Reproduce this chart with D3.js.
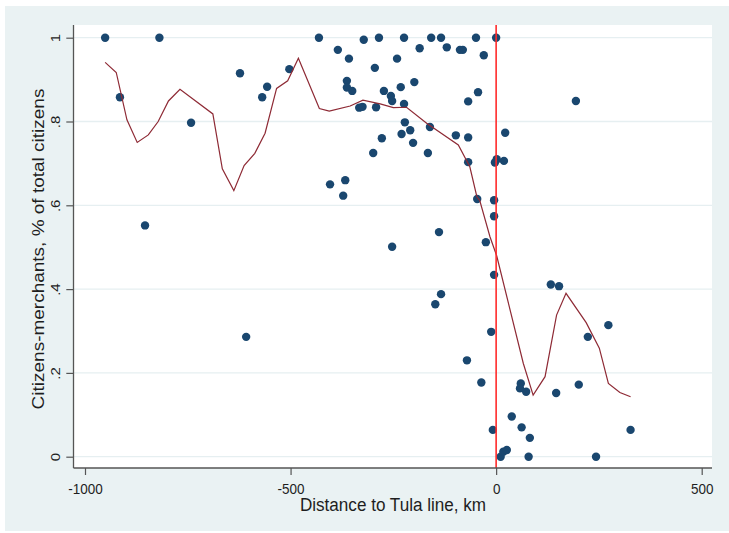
<!DOCTYPE html>
<html><head><meta charset="utf-8">
<script src="https://cdn.jsdelivr.net/npm/d3@7"></script>
<style>body{margin:0;background:#fff}svg{display:block}text{font-family:"Liberation Sans",Arial,sans-serif;fill:#1e1e1e}</style>
</head><body><svg id="c" width="729" height="533"></svg>
<script>
// Scatter data: distance to Tula line (km) and share of citizens-merchants
const distKm = [-951,-819,-915,-742,-623,-569,-557,-503,-854,-608,-431,-385,-358,-322,-285,-224,-158,-134,-49,0,
  -186,-120,-88,-81,-30,-241,-295,-363,-363,-350,-199,-232,-273,-256,-253,-224,-333,-325,-292,-44,
  -68,-222,-209,-230,-161,-98,-68,22,-278,-202,-299,-166,-68,1.5,-3,19,-404,-367,-372,-46,
  -5,-5,-139,-253,-25,-5,-134,-148,-12,-71,-36,133,153,273,223,60,58,73,146,201,
  38,62,-8,327,82,11,17.5,26,79,243,194];
const merchShare = [1,1,0.858,0.797,0.915,0.858,0.883,0.925,0.552,0.286,1,0.971,0.95,0.995,1,1,1,1,1,1,
  0.975,0.977,0.971,0.971,0.958,0.95,0.928,0.897,0.881,0.873,0.894,0.882,0.873,0.861,0.849,0.842,0.833,0.835,0.834,0.87,
  0.848,0.798,0.779,0.77,0.787,0.767,0.762,0.773,0.76,0.749,0.725,0.725,0.703,0.71,0.702,0.706,0.65,0.66,0.623,0.615,
  0.612,0.574,0.536,0.501,0.512,0.434,0.388,0.364,0.298,0.23,0.177,0.411,0.407,0.314,0.286,0.175,0.163,0.155,0.152,0.172,
  0.096,0.07,0.064,0.064,0.045,0,0.012,0.016,0,0,0.849];
// Smoothed (lowess) curve
const smoothX = [-951,-924,-898,-873,-846,-822,-797,-769,-689,-666,-638,-613,-587,-562,-534,-507,-481,-430,-406,-355,
  -324,-282,-250,-218,-169,-92,-64,-47,-40,-15,1.5,66,90,119,147,170,219,251,273,301,327];
const smoothY = [0.941,0.917,0.804,0.750,0.768,0.800,0.849,0.877,0.818,0.687,0.635,0.695,0.724,0.772,0.879,0.897,0.951,0.831,0.825,0.837,
  0.851,0.842,0.833,0.834,0.796,0.744,0.692,0.621,0.612,0.525,0.479,0.223,0.147,0.191,0.338,0.390,0.320,0.259,0.175,0.153,0.143];
const xTicks = [-1000,-500,0,500];
const xTickLabels = ["-1000","-500","0","500"];
const yTicks = [0,0.2,0.4,0.6,0.8,1];
const yTickLabels = ["0",".2",".4",".6",".8","1"];
const xTitle = "Distance to Tula line, km";
const yTitle = "Citizens-merchants, % of total citizens";
const cutoff = 0;

const svg = d3.select("#c");
const P = {l:74, r:712, t:25, b:468};
const x = d3.scaleLinear().domain([-1000,500]).range([85,701.7]);
const y = d3.scaleLinear().domain([0,1]).range([456.7,37.7]);

svg.append("rect").attr("x",5).attr("y",6).attr("width",724).attr("height",525).attr("fill","#eaf2f3");
svg.append("rect").attr("x",P.l).attr("y",P.t).attr("width",P.r-P.l).attr("height",P.b-P.t).attr("fill","#fff");

// gridlines
svg.append("g").selectAll("line").data(yTicks).join("line")
  .attr("x1",P.l).attr("x2",P.r).attr("y1",d=>y(d)).attr("y2",d=>y(d))
  .attr("stroke","#e6eff1").attr("stroke-width",1.3);

// points
svg.append("g").selectAll("circle").data(distKm.map((d,i)=>[d,merchShare[i]])).join("circle")
  .attr("cx",d=>x(d[0])).attr("cy",d=>y(d[1])).attr("r",4.2).attr("fill","#1a476f");

// smooth line
svg.append("path").datum(smoothX.map((d,i)=>[d,smoothY[i]]))
  .attr("d",d3.line().x(d=>x(d[0])).y(d=>y(d[1])))
  .attr("fill","none").attr("stroke","#8e2a35").attr("stroke-width",1.2);

// cutoff line
svg.append("line").attr("x1",x(cutoff)).attr("x2",x(cutoff)).attr("y1",P.t).attr("y2",P.b)
  .attr("stroke","#ff2a2a").attr("stroke-width",1.6);

// axes
const xa = svg.append("g").attr("transform",`translate(0,${P.b})`)
  .call(d3.axisBottom(x).tickValues(xTicks).tickFormat((d,i)=>xTickLabels[i]).tickSize(7).tickSizeOuter(0));
xa.select(".domain").remove();
xa.selectAll(".tick line").attr("stroke","#555").attr("stroke-width",1.2);
xa.selectAll(".tick text").attr("y",26).attr("dy",0).attr("font-size",15)
  .attr("transform","scale(0.9,1)").style("fill","#1e1e1e");

const ya = svg.append("g").attr("transform",`translate(${P.l-0.7},0)`)
  .call(d3.axisLeft(y).tickValues(yTicks).tickFormat((d,i)=>yTickLabels[i]).tickSize(7).tickSizeOuter(0));
ya.select(".domain").remove();
ya.selectAll(".tick line").attr("stroke","#555").attr("stroke-width",1.2);
ya.selectAll(".tick text").attr("x",0).attr("dy",0).attr("font-size",15).attr("text-anchor","middle")
  .attr("transform","translate(-13.8,0) scale(0.9,1) rotate(-90)").style("fill","#1e1e1e");

svg.append("line").attr("x1",P.l-0.5).attr("x2",P.r).attr("y1",P.b).attr("y2",P.b).attr("stroke","#555").attr("stroke-width",1.3);
svg.append("line").attr("x1",P.l-0.5).attr("x2",P.l-0.5).attr("y1",P.t).attr("y2",P.b).attr("stroke","#555").attr("stroke-width",1.3);

// titles
svg.append("text").attr("transform",`translate(${(P.l+P.r)/2},511) scale(0.9,1)`).attr("text-anchor","middle")
  .attr("font-size",19).text(xTitle);
svg.append("text").attr("transform",`translate(44,249) scale(0.9,1) rotate(-90)`).attr("text-anchor","middle")
  .attr("font-size",19).text(yTitle);
</script></body></html>
